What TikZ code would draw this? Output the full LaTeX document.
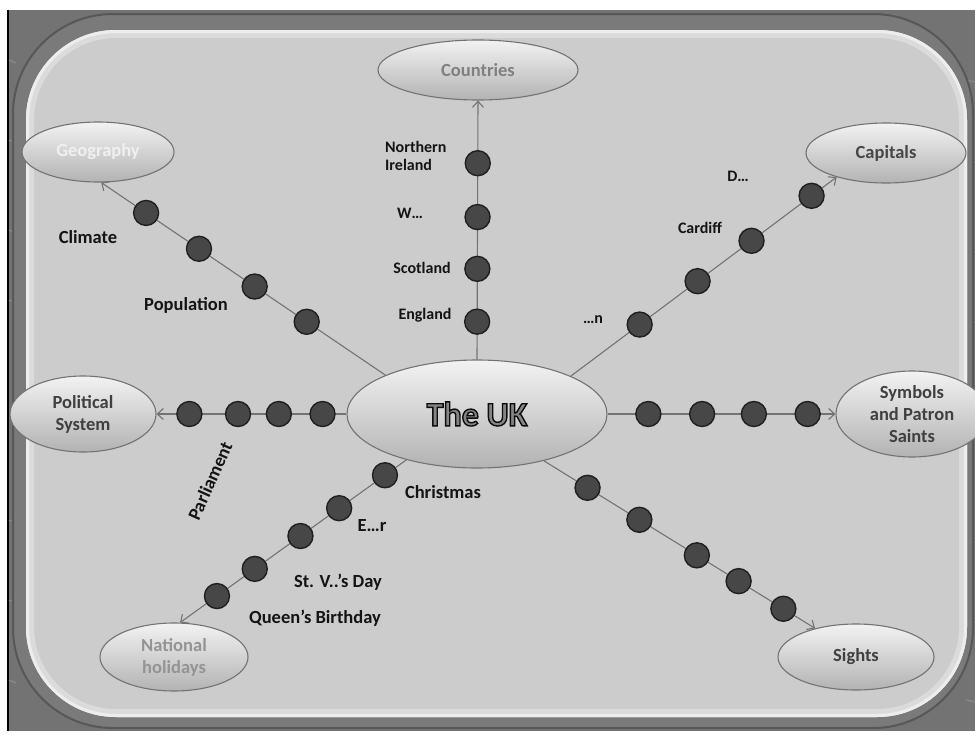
\documentclass[tikz,border=0pt]{standalone}
\usepackage{fontspec}
\setmainfont{Carlito}
\usetikzlibrary{arrows.meta,shapes.geometric}
\tikzset{
  bubble/.style={ellipse, draw=black!55, line width=1.1pt, top color=black!5, bottom color=black!30, inner sep=0pt},
  dot/.style={circle, fill=black!72, draw=black!88, line width=1.4pt, minimum size=25pt, inner sep=0pt},
  conn/.style={draw=black!55, line width=1.1pt, -{Straight Barb[length=6pt,width=11pt]}},
  lab/.style={font=\bfseries\fontsize{18.5}{22}\selectfont, text=black!92, inner sep=0pt},
  slab/.style={font=\bfseries\fontsize{16}{18}\selectfont, text=black!92, inner sep=0pt},
  btext/.style={font=\bfseries\fontsize{18.5}{22}\selectfont, align=center, inner sep=0pt},
  uktext/.style={font=\bfseries\fontsize{34}{40}\selectfont, text=black!48, inner sep=0pt},
}
\begin{document}
\begin{tikzpicture}[x=1pt,y=-1pt]
\useasboundingbox (0,0) rectangle (975,734);
\fill[white] (0,0) rectangle (975,734);
% frame
\fill[black!55] (7,10) rectangle (975,731);
\draw[black, line width=2pt] (8,10) -- (8,731);
\foreach \yy in {60,140,230,300,520,600,680}{
  \draw[black!47, line width=1.5pt] (9,\yy) -- (16,\yy+3);
  \draw[black!47, line width=1.5pt] (966,\yy+20) -- (975,\yy+22);
}
\fill[black!52, draw=black!66, line width=2pt, rounded corners=100pt] (13,14) rectangle (973,728);
\fill[black!20, rounded corners=90pt] (26,30) rectangle (967,717);
\begin{scope}
  \clip[rounded corners=90pt] (26,30) rectangle (967,717);
  \draw[black!14, line width=16pt, rounded corners=90pt] (26,30) rectangle (967,717);
  \draw[black!7, line width=6pt, rounded corners=90pt] (26,30) rectangle (967,717);
\end{scope}

% bubbles
\node[bubble, minimum width=260pt, minimum height=108pt] (uk) at (477,414) {};
\node[bubble, minimum width=200pt, minimum height=60pt] (countries) at (478,70) {};
\node[bubble, minimum width=152pt, minimum height=60pt] (geo) at (98,152) {};
\node[bubble, minimum width=160pt, minimum height=60pt] (capitals) at (886,153) {};
\node[bubble, minimum width=146pt, minimum height=76pt] (pol) at (83,414) {};
\node[bubble, minimum width=152pt, minimum height=86pt] (sym) at (912,414) {};
\node[bubble, minimum width=156pt, minimum height=66pt] (sights) at (856,657) {};
\node[bubble, minimum width=148pt, minimum height=68pt] (nat) at (174,657) {};

% bubble texts
\node[uktext] (ukt) at (uk.center) {\special{pdf:literal direct q 2 Tr 1.4 w 0.05 G}The UK\special{pdf:literal direct Q}};
\node[btext, text=black!50] (countries-t) at (countries.center) {Countries};
\node[btext, text=black!6] (geo-t) at (geo.center) {Geography};
\node[btext, text=black!72] (capitals-t) at (capitals.center) {Capitals};
\node[btext, text=black!75] (pol-t) at (pol.center) {Political\\System};
\node[btext, text=black!75] (sym-t) at (sym.center) {Symbols\\and Patron\\Saints};
\node[btext, text=black!75] (sights-t) at (sights.center) {Sights};
\node[btext, text=black!42] (nat-t) at (nat.center) {National\\holidays};

% connectors with dots
\draw[conn] (uk.90) -- node[dot,pos=0.146](c1){} node[dot,pos=0.35](c2){} node[dot,pos=0.55](c3){} node[dot,pos=0.758](c4){} (countries.-90);
\draw[conn] (uk.157) -- node[dot,pos=0.277](g1){} node[dot,pos=0.46](g2){} node[dot,pos=0.656](g3){} node[dot,pos=0.842](g4){} (geo.-84);
\draw[conn] (uk.22) -- node[dot,pos=0.259](k1){} node[dot,pos=0.477](k2){} node[dot,pos=0.68](k3){} node[dot,pos=0.906](k4){} (capitals.206);
\draw[conn] (uk.180) -- node[dot,pos=0.126](p1){} node[dot,pos=0.356](p2){} node[dot,pos=0.571](p3){} node[dot,pos=0.827](p4){} (pol.0);
\draw[conn] (uk.0) -- node[dot,pos=0.179](s1){} node[dot,pos=0.415](s2){} node[dot,pos=0.642](s3){} node[dot,pos=0.878](s4){} (sym.180);
\draw[conn] (uk.-35) -- node[dot,pos=0.161](t1){} node[dot,pos=0.352](t2){} node[dot,pos=0.564](t3){} node[dot,pos=0.718](t4){} node[dot,pos=0.883](t5){} (sights.145);
\draw[conn] (uk.213) -- node[dot,pos=0.0945](n1){} node[dot,pos=0.297](n2){} node[dot,pos=0.468](n3){} node[dot,pos=0.67](n4){} node[dot,pos=0.837](n5){} (nat.80);

% labels
\node[slab, align=left, anchor=west] (ni) at (385,156) {Northern\\Ireland};
\node[slab] (wl) at (410,213) {W…};
\node[slab] (scot) at (422,268) {Scotland};
\node[slab] (eng) at (425,315) {England};
\node[lab] (climate) at (88,237) {Climate};
\node[lab] (pop) at (186,305) {Population};
\node[slab] (dl) at (738,176) {D…};
\node[slab] (cardiff) at (700,228) {Cardiff};
\node[slab] (nl) at (593,320) {…n};
\node[lab, rotate=66] (parl) at (210,481) {Parliament};
\node[lab] (xmas) at (443,492) {Christmas};
\node[lab] (easter) at (372,526) {E…r};
\node[lab] (stv) at (338,582) {St. V..’s Day};
\node[lab] (queen) at (315,618) {Queen’s Birthday};
\end{tikzpicture}
\end{document}
